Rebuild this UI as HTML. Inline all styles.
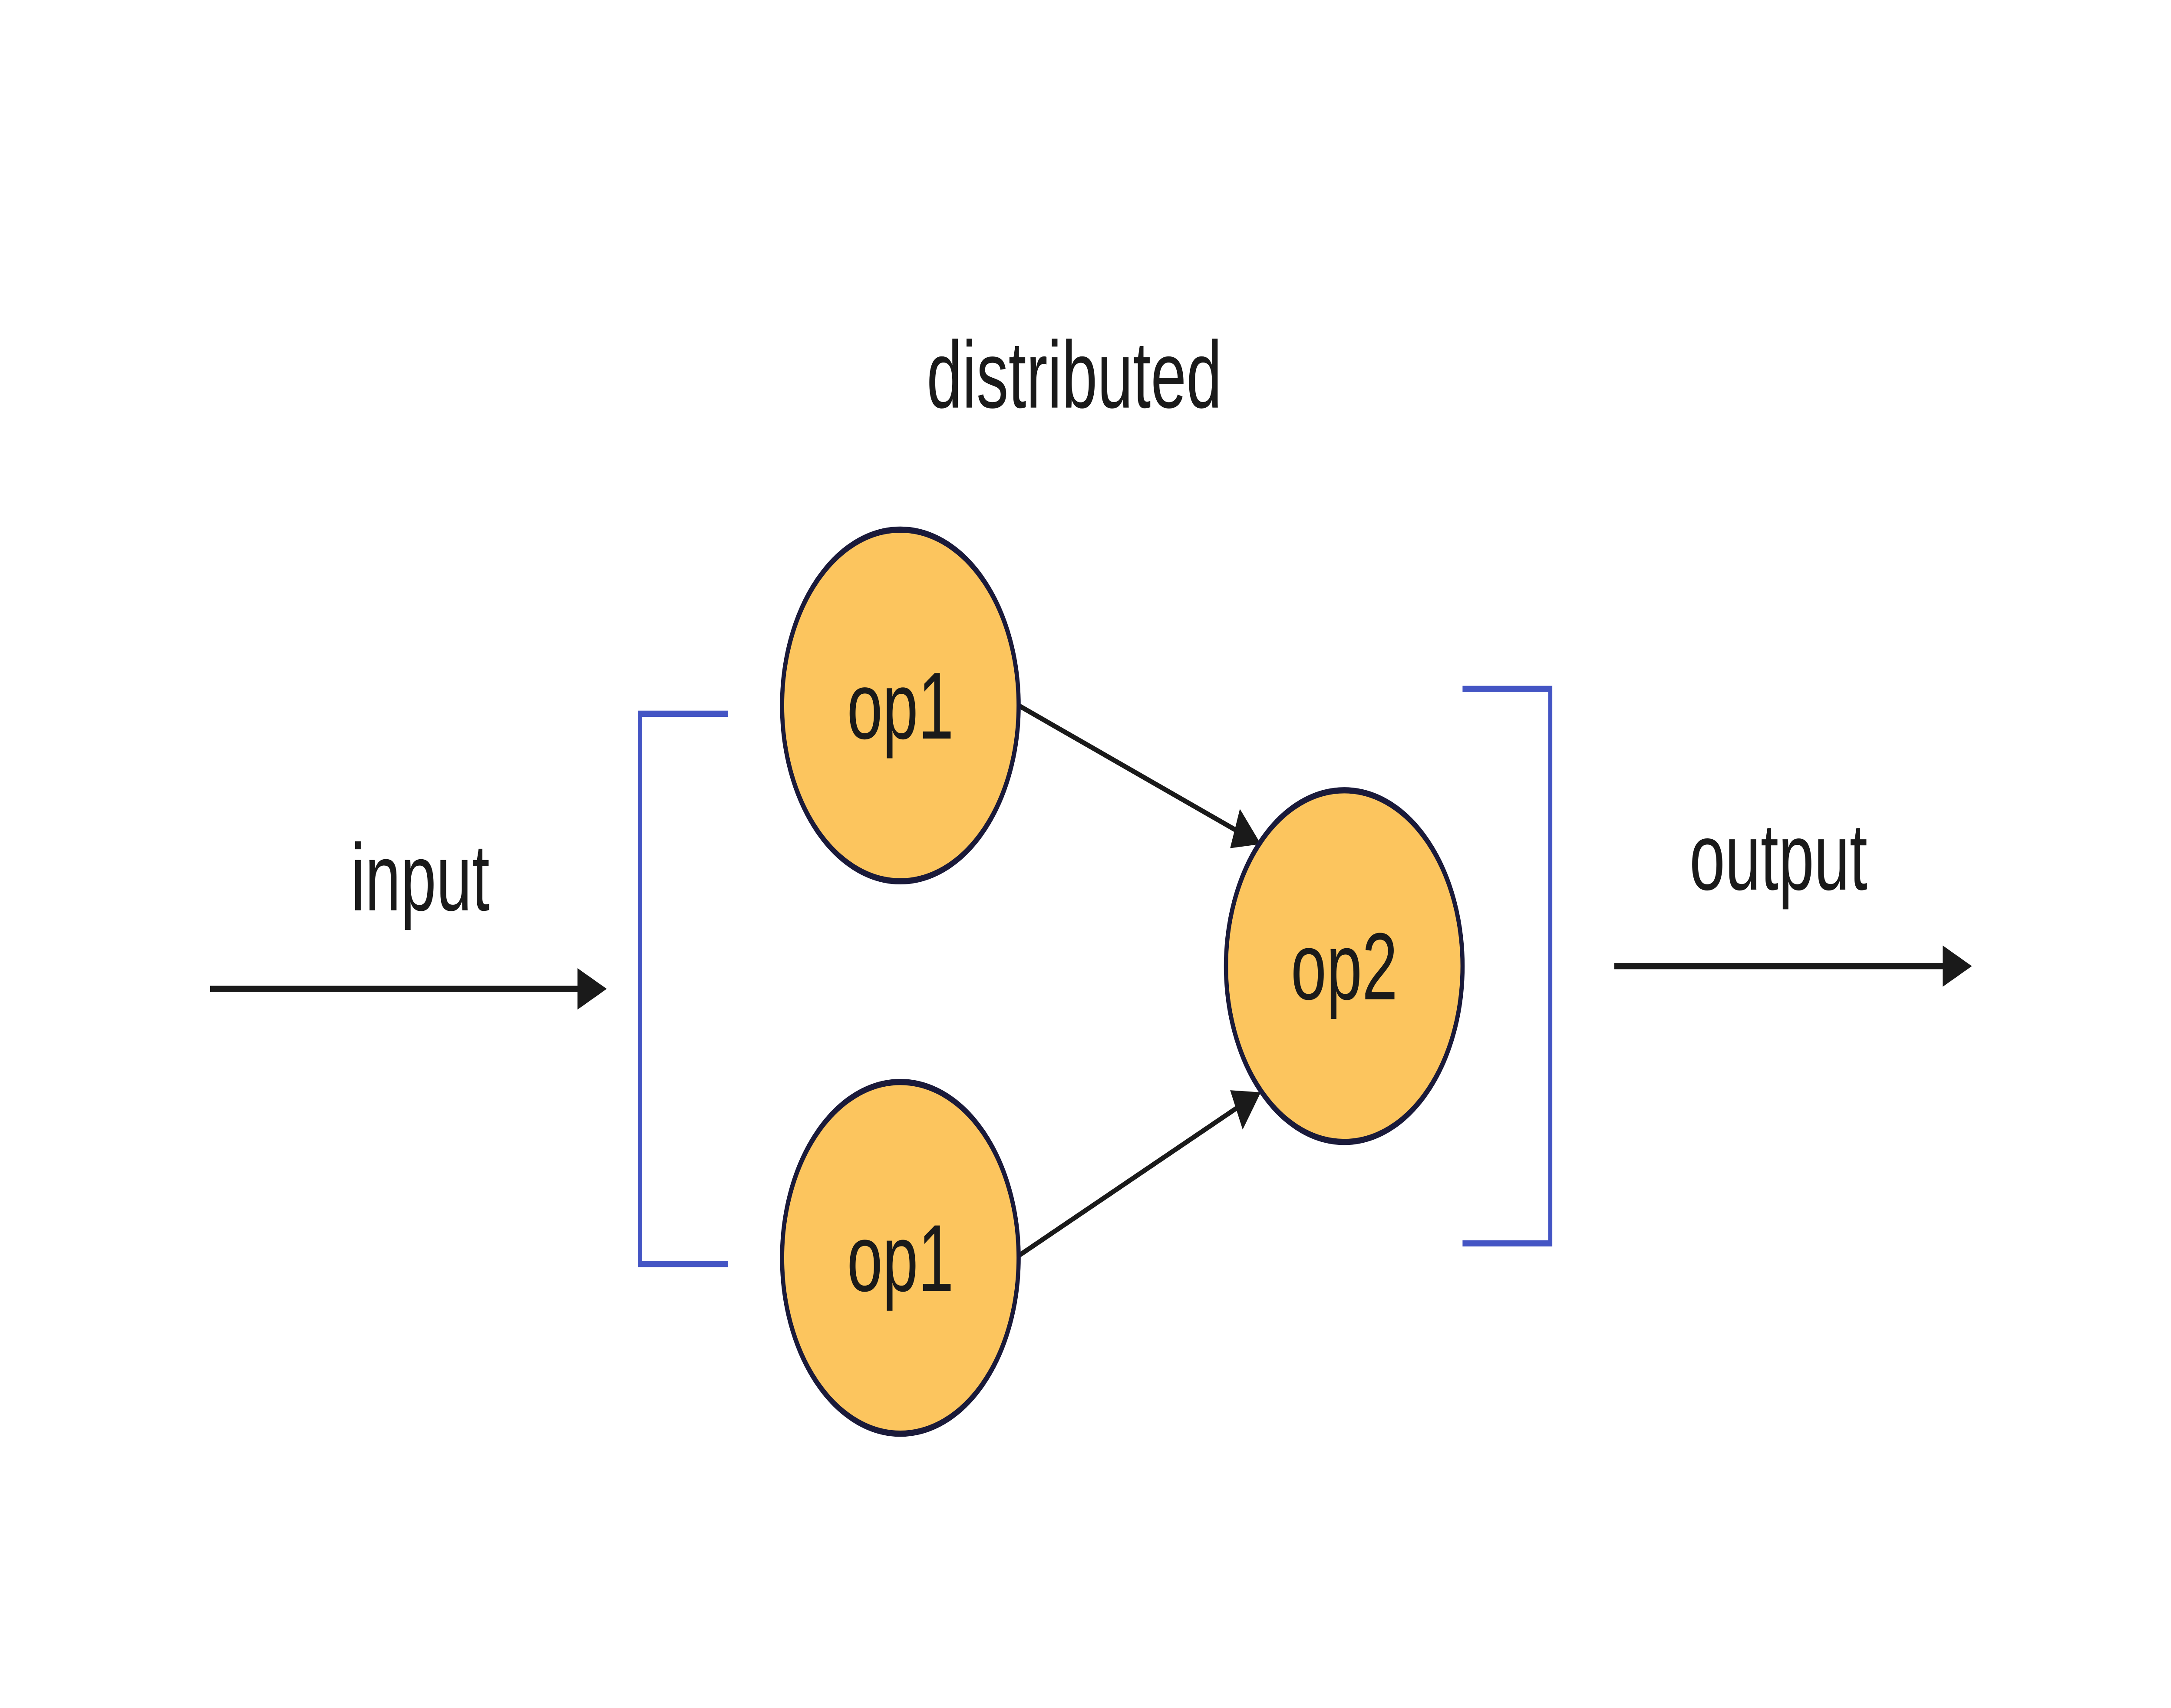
<!DOCTYPE html>
<html><head><meta charset="utf-8"><style>
html,body{margin:0;padding:0;background:#fff;width:100%;height:100%;overflow:hidden;}
svg{display:block;position:fixed;left:0;top:0;width:100vw;height:100vh;}
text{font-family:"Liberation Sans",sans-serif;fill:#1a1a1a;}
</style></head><body>
<svg viewBox="0 0 1560.1 825.6" preserveAspectRatio="none" xmlns="http://www.w3.org/2000/svg">
<rect width="1560.1" height="825.6" fill="#fff"/>
<text x="772" y="197" font-size="46" text-anchor="middle">distributed</text>
<text x="302" y="440" font-size="46" text-anchor="middle">input</text>
<text x="1278" y="430" font-size="46" text-anchor="middle">output</text>
<line x1="151" y1="478" x2="418" y2="478" stroke="#1a1a1a" stroke-width="3"/>
<polygon points="436,478 415,468 415,488" fill="#1a1a1a"/>
<line x1="1160" y1="467" x2="1399" y2="467" stroke="#1a1a1a" stroke-width="3"/>
<polygon points="1417,467 1396,457 1396,477" fill="#1a1a1a"/>
<polyline points="523,345 460,345 460,611 523,611" fill="none" stroke="#4455c4" stroke-width="3"/>
<polyline points="1051,333 1114,333 1114,601 1051,601" fill="none" stroke="#4455c4" stroke-width="3"/>
<line x1="732" y1="341" x2="890" y2="402" stroke="#1a1a1a" stroke-width="2.5"/>
<polygon points="906,408 884,410 891,391" fill="#1a1a1a"/>
<line x1="732" y1="607" x2="890" y2="535" stroke="#1a1a1a" stroke-width="2.5"/>
<polygon points="906,528 893,546 884,527" fill="#1a1a1a"/>
<circle cx="647" cy="341" r="85" fill="#fcc55e" stroke="#1a1a3a" stroke-width="3"/>
<circle cx="647" cy="608" r="85" fill="#fcc55e" stroke="#1a1a3a" stroke-width="3"/>
<circle cx="966" cy="467" r="85" fill="#fcc55e" stroke="#1a1a3a" stroke-width="3"/>
<text x="647" y="357" font-size="46" text-anchor="middle">op1</text>
<text x="647" y="624" font-size="46" text-anchor="middle">op1</text>
<text x="966" y="483" font-size="46" text-anchor="middle">op2</text>
</svg>
</body></html>
